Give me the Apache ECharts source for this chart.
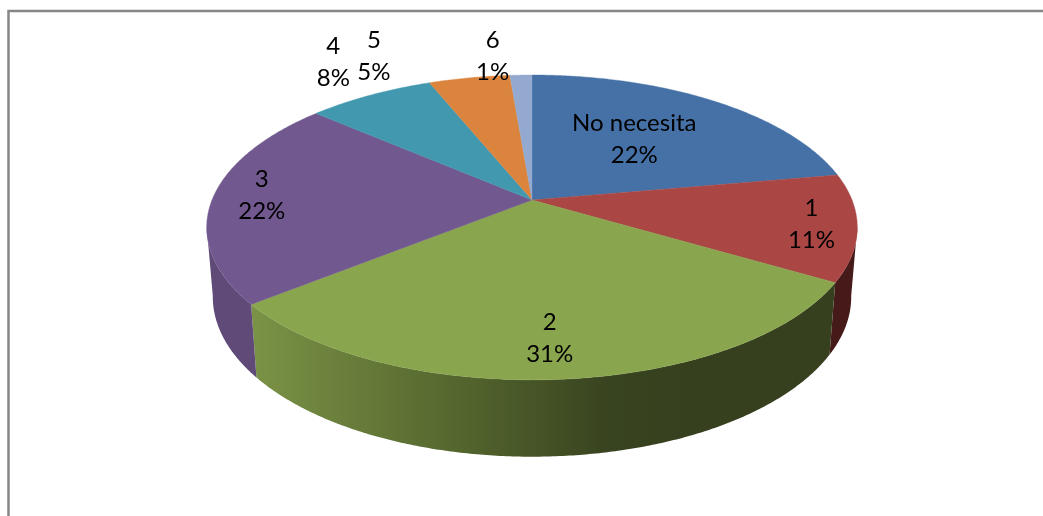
<!DOCTYPE html>
<html>
<head>
<meta charset="utf-8">
<style>html,body{margin:0;padding:0;background:#fff}#c{width:1043px;height:516px}</style>
<script src="https://cdn.jsdelivr.net/npm/echarts@6/dist/echarts.min.js"></script>
</head>
<body>
<div id="c"></div>
<script>
// Data
const categories = ['No necesita', '1', '2', '3', '4', '5', '6'];
const percents = [22.2, 11.3, 30.7, 22.2, 7.5, 4.8, 1.3];

// Style
const topColors = ['#4571a7', '#aa4644', '#89a54e', '#71588f', '#4198af', '#db843d', '#93a9cf'];
const wallColors = ['#34547c', '#451a18', null, '#5f4a78', '#30717f', '#a0602c', '#6d7d99'];
const greenWallStops = [[0, '#7b9346'], [0.45, '#56682f'], [0.82, '#38431f'], [1, '#36401f']];
// Label layout: radial factor from the pie apex, then a small nudge in px
const labelRadius = [0.54, 0.86, 0.805, 0.847, 1.3, 1.3, 1.25];
const labelNudge = [[-1, -4], [1, 1], [-4, 0], [0, -2], [4, -7], [-80, 8], [-26, 7]];

// Perspective projection of the unit disc onto the page
const cx = 532;
const topPlane = { R: 320, a: 111.5, b: 200, c: -0.18 };
const bottomPlane = { R: 314, a: 106.5, b: 268, c: -0.18 };
// The wall is visible between these two angles (where the rim turns away)
const wallFrom = 100 * Math.PI / 180, wallTo = 260 * Math.PI / 180;
function project(plane, u, v) {
  const d = 1 + plane.c * v;
  return [cx + plane.R * u / d, (plane.a * v + plane.b) / d];
}
const total = percents.reduce((s, v) => s + v, 0);
function sliceAngles(i) {
  let before = 0;
  for (let k = 0; k < i; k++) before += percents[k];
  return [before / total * 2 * Math.PI, (before + percents[i]) / total * 2 * Math.PI];
}
function rim(plane, a0, a1, r) {
  const pts = [];
  const n = Math.max(2, Math.ceil((a1 - a0) / (Math.PI / 360)));
  for (let j = 0; j <= n; j++) {
    const t = a0 + (a1 - a0) * j / n;
    pts.push(project(plane, r * Math.sin(t), -r * Math.cos(t)));
  }
  return pts;
}
const rows = percents.map((v, i) => [i, v]);

function wallItem(params, api) {
  const i = api.value(0);
  const [s0, s1] = sliceAngles(i);
  const a0 = Math.max(s0, wallFrom), a1 = Math.min(s1, wallTo);
  if (a1 <= a0) return null;
  const pts = rim(topPlane, a0, a1, 1).concat(rim(bottomPlane, a0, a1, 1).reverse());
  const fill = wallColors[i] || new echarts.graphic.LinearGradient(
    250, 0, 690, 0, greenWallStops.map(s => ({ offset: s[0], color: s[1] })), true);
  return { type: 'polygon', shape: { points: pts }, style: { fill: fill } };
}
function topItem(params, api) {
  const i = api.value(0);
  const [a0, a1] = sliceAngles(i);
  const pts = [project(topPlane, 0, 0)].concat(rim(topPlane, a0, a1, 1));
  return { type: 'polygon', shape: { points: pts },
    style: { fill: topColors[i], stroke: topColors[i], lineWidth: 0.4 } };
}
function labelItem(params, api) {
  const i = api.value(0);
  const [a0, a1] = sliceAngles(i);
  const mid = (a0 + a1) / 2, r = labelRadius[i];
  const p = project(topPlane, r * Math.sin(mid), -r * Math.cos(mid));
  return { type: 'text', x: p[0] + labelNudge[i][0], y: p[1] + labelNudge[i][1],
    style: { text: categories[i] + '\n' + Math.round(api.value(1)) + '%', fill: '#000',
      font: '24px Lato', lineHeight: 32, align: 'center', verticalAlign: 'middle' } };
}

const chart = echarts.init(document.getElementById('c'), null, { renderer: 'canvas' });
chart.setOption({
  animation: false,
  backgroundColor: '#fff',
  graphic: [{ type: 'polyline', silent: true,
    shape: { points: [[8.5, 516], [8.5, 11], [1043, 11]] },
    style: { stroke: '#868686', lineWidth: 2.5, fill: null } }],
  series: [
    { type: 'custom', coordinateSystem: 'none', silent: true, z: 1, data: rows, renderItem: wallItem },
    { type: 'custom', coordinateSystem: 'none', silent: true, z: 2, data: rows, renderItem: topItem },
    { type: 'custom', coordinateSystem: 'none', silent: true, z: 3, data: rows, renderItem: labelItem }
  ]
});
</script>
</body>
</html>
